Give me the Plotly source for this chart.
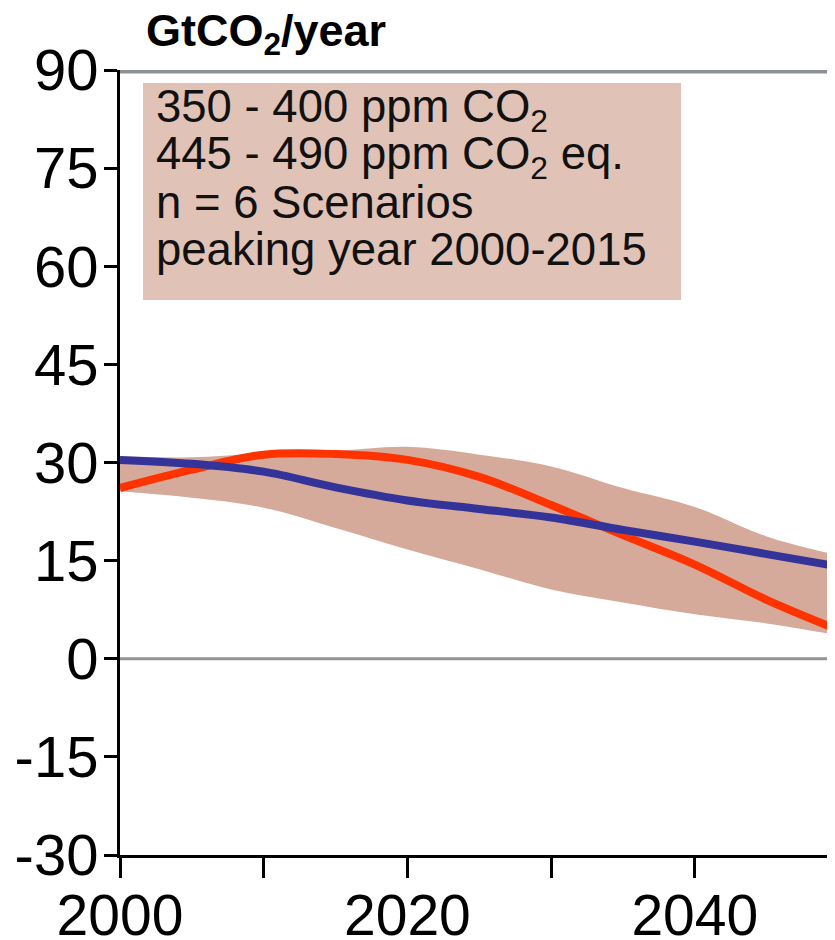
import plotly.graph_objects as go

years = [2000, 2005, 2010, 2015, 2020, 2025, 2030, 2035, 2040, 2045, 2050]
band_upper = [30.9, 30.8, 31.4, 31.8, 32.4, 31.2, 29.4, 26.1, 23.2, 18.7, 15.8]
band_lower = [25.6, 24.6, 23.1, 20.0, 16.7, 13.7, 10.6, 8.6, 6.8, 5.4, 3.6]
blue_line = [30.4, 29.8, 28.6, 26.2, 24.2, 22.9, 21.6, 19.7, 17.9, 16.0, 14.1]
red_line = [26.1, 28.9, 31.2, 31.3, 30.4, 27.8, 23.5, 18.9, 14.4, 9.0, 4.4]

y_ticks = [-30, -15, 0, 15, 30, 45, 60, 75, 90]
y_labels = ["-30", "-15", "0", "15", "30", "45", "60", "75", "90"]
x_ticks = [2000, 2010, 2020, 2030, 2040, 2050]
x_labels = ["2000", "", "2020", "", "2040", ""]

legend_lines = [
    "350 - 400 ppm CO<sub>2</sub>",
    "445 - 490 ppm CO<sub>2</sub> eq.",
    "n = 6 Scenarios",
    "peaking year 2000-2015",
]

FONT = "Liberation Sans, Arial, sans-serif"

fig = go.Figure()
fig.add_trace(go.Scatter(x=years, y=band_lower, mode="lines",
                         line=dict(width=0, shape="spline"), hoverinfo="skip",
                         showlegend=False))
fig.add_trace(go.Scatter(x=years, y=band_upper, mode="lines",
                         line=dict(width=0, shape="spline"), fill="tonexty",
                         fillcolor="#d5aa9a", showlegend=False))
fig.add_trace(go.Scatter(x=years, y=red_line, mode="lines",
                         line=dict(color="#ff3300", width=8, shape="spline"),
                         showlegend=False))
fig.add_trace(go.Scatter(x=years, y=blue_line, mode="lines",
                         line=dict(color="#333399", width=8, shape="spline"),
                         showlegend=False))

# plot area (page pixels): left 120, top 70, bottom 855, extends past right edge
PW, PH = 723, 785
x_max = 2000 + PW / 14.37

shapes = [
    # legend box
    dict(type="rect", xref="paper", yref="paper",
         x0=23 / PW, x1=561 / PW, y0=(PH - 230) / PH, y1=(PH - 13) / PH,
         fillcolor="#e0c3b6", line=dict(width=0), layer="below"),
    # top gray border
    dict(type="line", xref="paper", yref="y", x0=0, x1=1, y0=90, y1=90,
         line=dict(color="#8c8f94", width=7)),
    # zero line
    dict(type="line", xref="paper", yref="y", x0=0, x1=1, y0=0, y1=0,
         line=dict(color="#939399", width=3), layer="below"),
]

annotations = [
    dict(text="<b>GtCO<sub>2</sub>/year</b>", xref="paper", yref="paper",
         x=24 / PW, y=1 + 37 / PH, xanchor="left", yanchor="middle",
         showarrow=False, font=dict(family=FONT, size=45, color="black")),
]
line_centers = [40, 87, 133, 180]  # px below plot top
for txt, cy in zip(legend_lines, line_centers):
    annotations.append(dict(text=txt, xref="paper", yref="paper",
                            x=34 / PW, y=(PH - cy) / PH,
                            xanchor="left", yanchor="middle", align="left",
                            showarrow=False,
                            font=dict(family=FONT, size=45.5, color="#111111")))

fig.update_layout(
    width=835, height=932,
    margin=dict(l=112, r=0, t=62, b=85),
    paper_bgcolor="white", plot_bgcolor="white",
    shapes=shapes, annotations=annotations,
    xaxis=dict(range=[2000, x_max], tickvals=x_ticks, ticktext=x_labels,
               ticks="outside", ticklen=20, tickwidth=3, tickcolor="black",
               showline=True, linecolor="black", linewidth=3,
               showgrid=False, zeroline=False, automargin=False,
               ticklabelstandoff=-11,
               tickfont=dict(family=FONT, size=57, color="black")),
    yaxis=dict(range=[-30, 90], tickvals=y_ticks, ticktext=y_labels,
               ticks="outside", ticklen=13, tickwidth=3, tickcolor="black",
               showline=True, linecolor="black", linewidth=3,
               showgrid=False, zeroline=False, ticklabelstandoff=-6,
               automargin=False,
               tickfont=dict(family=FONT, size=58, color="black")),
)

fig.write_html("out.html")
